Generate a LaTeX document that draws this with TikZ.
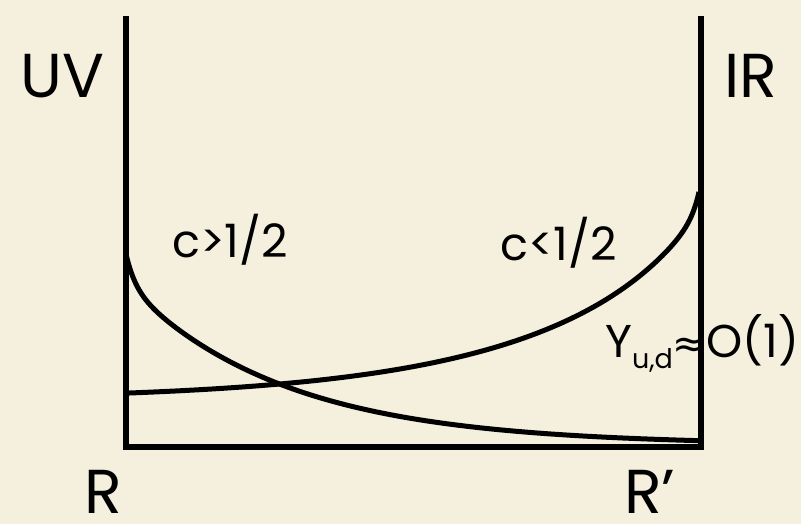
\documentclass[tikz,border=0pt]{standalone}
\usepackage{fontspec}
\setmainfont{Poppins}
\newfontfamily\symfont{DejaVu Sans}
\definecolor{bgcol}{RGB}{245,240,221}
\begin{document}
\begin{tikzpicture}[x=1pt,y=-1pt,
  biglabel/.style={inner sep=0pt,anchor=base west,font=\fontsize{62}{62}\selectfont},
  midlabel/.style={inner sep=0pt,anchor=base west,font=\fontsize{46}{46}\selectfont},
  frame/.style={line width=5.5pt,line join=miter},
  curve/.style={line width=5pt}]
\fill[bgcol] (0,0) rectangle (801,524);
\useasboundingbox (0,0) rectangle (801,524);
% frame
\draw[frame] (126,16) -- (126,447) -- (701,447) -- (701,16);
% decaying curve (c>1/2)
\draw[curve] plot[domain=125.5:700,samples=250,smooth]
  (\x,{445-193*(0.834*exp(-0.0063*(\x-125.5))+0.166*exp(-0.108*(\x-125.5)))});
% rising curve (c<1/2)
\draw[curve] plot[domain=126:699,samples=300,smooth]
  (\x,{400-160*exp(-0.0055*(699-\x))-28*exp(-0.02*(699-\x))-20*exp(-0.15*(699-\x))});
% labels
\node[biglabel] (uv) at (20,98) {UV};
\node[biglabel] (ir) at (724,98) {IR};
\node[biglabel] (r) at (84,513) {R};
\node[biglabel] (rp) at (624,513) {R’};
\node[midlabel] (cgt) at (172,257) {c>1/2};
\node[midlabel] (clt) at (500,260) {c<1/2};
\node[midlabel] (y) at (605,357) {Y\raisebox{-11pt}{\fontsize{27}{27}\selectfont u,d}{\symfont\fontsize{40}{40}\selectfont ≈}O(1)};
\end{tikzpicture}
\end{document}
